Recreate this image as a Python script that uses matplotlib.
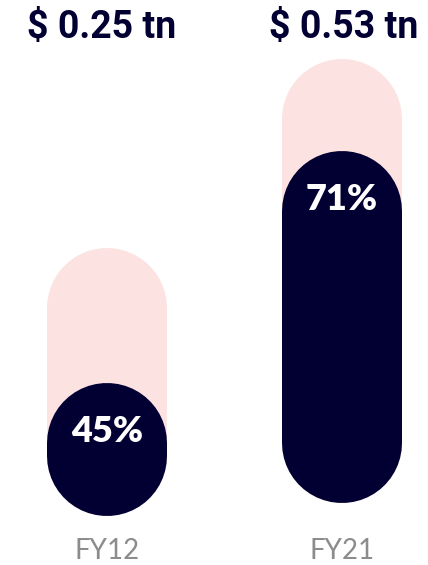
import matplotlib
matplotlib.use("Agg")
import matplotlib.pyplot as plt

years = ["FY12", "FY21"]
totals = [0.25, 0.53]          # $ tn
shares = [45, 71]              # % of total

PINK = "#fde2e2"
NAVY = "#020032"
W, H = 428, 565

fig = plt.figure(figsize=(W / 100, H / 100), dpi=100)

# each pill gets its own axes: (center px, title center px, bottom px, top px, ylim)
layout = [
    (107, 102, 516, 230, (-0.023, 0.2683)),
    (342, 344, 503, 40, (-0.2117, 0.5617)),
]
pill_px = 120  # pill width in pixels

for (cx, tx, bot, top, ylim), yr, tot, pct in zip(layout, years, totals, shares):
    ax = fig.add_axes([(cx - 100) / W, (H - bot) / H, 200 / W, (bot - top) / H])
    ax.set_xlim(-1, 1)
    ax.set_ylim(*ylim)
    ax.axis("off")
    lo, hi = ylim
    r = (pill_px / 2) * (hi - lo) / (bot - top)   # cap radius in data units
    lw = pill_px * 72 / 100
    inner = tot * pct / 100
    ax.plot([0, 0], [lo + r, tot - r], color=PINK, lw=lw,
            solid_capstyle="round")
    ax.plot([0, 0], [lo + r, max(inner - r, lo + r)], color=NAVY, lw=lw,
            solid_capstyle="round")
    ax.annotate(f"{pct}%", (0, inner), xytext=(0, -49), textcoords="offset pixels",
                ha="center", va="center", color="white", fontsize=26,
                fontweight="heavy", family="Lato")

    fig.text(tx / W, 1 - 27 / H, f"$ {tot:.2f} tn", ha="center", va="center",
             fontsize=27, fontweight="bold", color=NAVY, family="Roboto")
    fig.text(cx / W, 1 - 551 / H, yr, ha="center", va="center", fontsize=20,
             color="#8c8c8c", family="Lato")

fig.savefig("out.png", dpi=100)
